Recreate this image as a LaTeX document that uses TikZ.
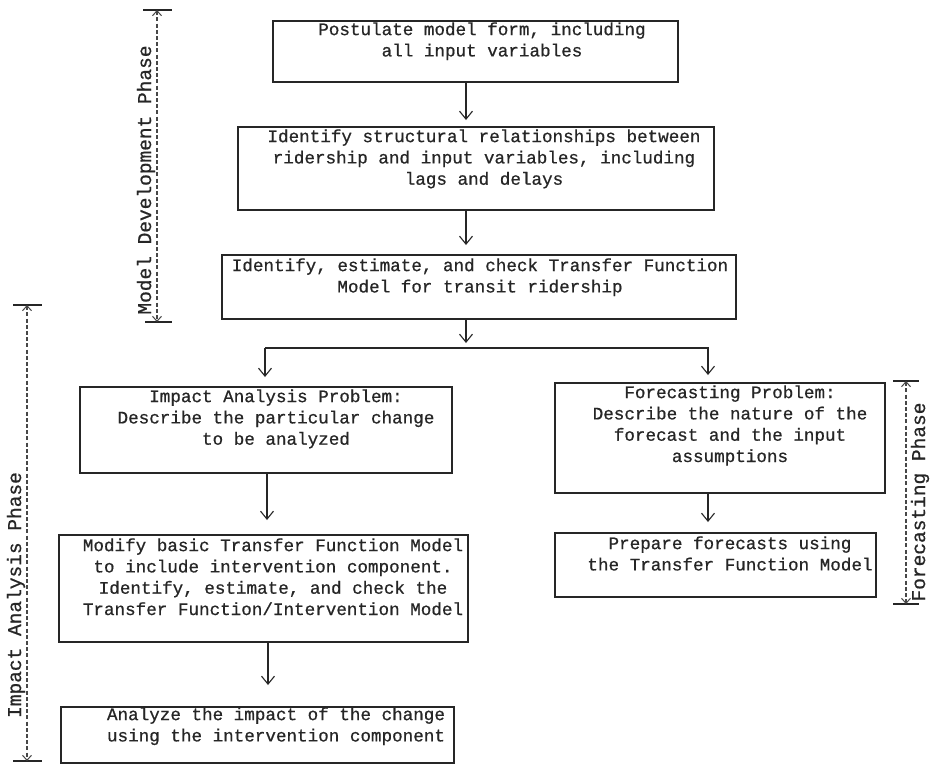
\documentclass[tikz,border=0pt]{standalone}
\usepackage{fontspec}
\newfontfamily\tw[FakeBold=0.7]{Liberation Mono}
\usetikzlibrary{arrows.meta,calc}
\definecolor{ink}{HTML}{262626}
\begin{document}
\begin{tikzpicture}[x=1pt,y=-1pt,
  box/.style={draw=ink, line width=1.1pt, inner sep=0pt, outer sep=0pt, anchor=north west},
  txt/.style={font=\tw\fontsize{17.6}{21.3}\selectfont, align=center, inner sep=0pt, anchor=north, text=ink},
  arr/.style={draw=ink, line width=1.1pt, -{Straight Barb[length=8pt,width=13pt,line width=1.1pt]}},
  phase/.style={draw=ink!85, line width=1.3pt, dash pattern=on 4pt off 2.2pt,
    {Straight Barb[length=5pt,width=9pt,line width=1pt]}-{Straight Barb[length=5pt,width=9pt,line width=1pt]}},
  tickbar/.style={draw=ink, line width=1.1pt},
  plabel/.style={font=\tw\fontsize{19.5}{22}\selectfont, rotate=90, inner sep=0pt, text=ink}]
\useasboundingbox (0,0) rectangle (930,764);
\fill[white] (0,0) rectangle (930,764);

% boxes
\node[box, minimum width=405pt, minimum height=61pt] (b1) at (273,21) {};
\node[box, minimum width=476pt, minimum height=83pt] (b2) at (238,127) {};
\node[box, minimum width=514pt, minimum height=64pt] (b3) at (222,255) {};
\node[box, minimum width=372pt, minimum height=86pt] (b4) at (80,387) {};
\node[box, minimum width=409pt, minimum height=107pt] (b5) at (59,535) {};
\node[box, minimum width=393pt, minimum height=56pt] (b6) at (61,707) {};
\node[box, minimum width=330pt, minimum height=110pt] (b7) at (555,383) {};
\node[box, minimum width=321pt, minimum height=64pt] (b8) at (555,533) {};

% texts
\node[txt] (t1) at (482,20) {\strut Postulate model form, including\\all input variables};
\node[txt] (t2) at (484,127) {\strut Identify structural relationships between\\ridership and input variables, including\\lags and delays};
\node[txt] (t3) at (480,256) {\strut Identify, estimate, and check Transfer Function\\Model for transit ridership};
\node[txt] (t4) at (276,387) {\strut Impact Analysis Problem:\\Describe the particular change\\to be analyzed};
\node[txt] (t5) at (273,536) {\strut Modify basic Transfer Function Model\\to include intervention component.\\Identify, estimate, and check the\\Transfer Function/Intervention Model};
\node[txt] (t6) at (276,705) {\strut Analyze the impact of the change\\using the intervention component};
\node[txt] (t7) at (730,383) {\strut Forecasting Problem:\\Describe the nature of the\\forecast and the input\\assumptions};
\node[txt] (t8) at (730,534) {\strut Prepare forecasts using\\the Transfer Function Model};

% connectors
\coordinate (colx) at (466,0);
\coordinate (jL) at (265,348);
\coordinate (jR) at (708,348);
\draw[arr] (b1.south -| colx) -- ([yshift=7pt]b2.north -| colx);
\draw[arr] (b2.south -| colx) -- ([yshift=10pt]b3.north -| colx);
\draw[arr] (b3.south -| colx) -- ([yshift=5pt]jL -| colx);
\draw[arr] (jL) -- ([yshift=10pt]b4.north -| jL);
\draw[arr] (jL) -- (jR) -- ([yshift=8pt]b7.north -| jR);
\coordinate (lcx) at (267,0);
\draw[arr] (b4.south -| lcx) -- ([yshift=15pt]b5.north -| lcx);
\coordinate (lcx2) at (268,0);
\draw[arr] (b5.south -| lcx2) -- ([yshift=22pt]b6.north -| lcx2);
\draw[arr] (b7.south -| jR) -- ([yshift=11pt]b8.north -| jR);

% phase brackets
\coordinate (mdT) at (157,10);
\coordinate (mdB) at (157,322);
\draw[tickbar] ([xshift=-14pt]mdT) -- ([xshift=15pt]mdT);
\draw[tickbar] ([xshift=-12pt]mdB) -- ([xshift=15pt]mdB);
\draw[phase] (mdT) -- (mdB);
\node[plabel] (mdL) at (146,180) {Model Development Phase};

\coordinate (iaT) at (27,305);
\coordinate (iaB) at (27,761);
\draw[tickbar] ([xshift=-14pt]iaT) -- ([xshift=15pt]iaT);
\draw[tickbar] ([xshift=-14pt]iaB) -- ([xshift=15pt]iaB);
\draw[phase] (iaT) -- (iaB);
\node[plabel] (iaL) at (16,595) {Impact Analysis Phase};

\coordinate (fcT) at (906,381);
\coordinate (fcB) at (906,604);
\draw[tickbar] ([xshift=-13pt]fcT) -- ([xshift=13pt]fcT);
\draw[tickbar] ([xshift=-13pt]fcB) -- ([xshift=13pt]fcB);
\draw[phase] (fcT) -- (fcB);
\node[plabel] (fcL) at (920,502) {Forecasting Phase};
\end{tikzpicture}
\end{document}
